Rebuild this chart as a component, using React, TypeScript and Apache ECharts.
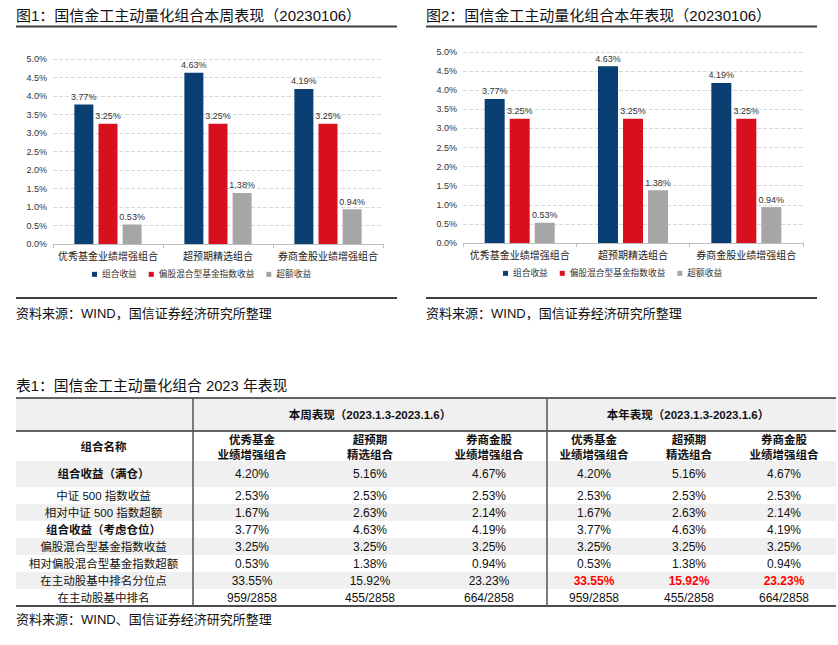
import React, { useEffect, useRef } from 'react';
import * as echarts from 'echarts';

// ---------- data ----------
const categories = ['优秀基金业绩增强组合', '超预期精选组合', '券商金股业绩增强组合'];
const seriesNames = ['组合收益', '偏股混合型基金指数收益', '超额收益'];
const weekPortfolio = [3.77, 4.63, 4.19];
const weekIndex = [3.25, 3.25, 3.25];
const weekExcess = [0.53, 1.38, 0.94];
const yearPortfolio = [3.77, 4.63, 4.19];
const yearIndex = [3.25, 3.25, 3.25];
const yearExcess = [0.53, 1.38, 0.94];

const chartTitles = ['图1：国信金工主动量化组合本周表现（20230106）', '图2：国信金工主动量化组合本年表现（20230106）'];
const chartSource = '资料来源：WIND，国信证券经济研究所整理';

const tableTitle = '表1：国信金工主动量化组合 2023 年表现';
const tableSource = '资料来源：WIND、国信证券经济研究所整理';
const sectionHeaders = ['本周表现（2023.1.3-2023.1.6）', '本年表现（2023.1.3-2023.1.6）'];
const nameHeader = '组合名称';
const colHeaders = ['优秀基金\n业绩增强组合', '超预期\n精选组合', '券商金股\n业绩增强组合'];
const rowLabels = [
  '组合收益（满仓）',
  '中证 500 指数收益',
  '相对中证 500 指数超额',
  '组合收益（考虑仓位）',
  '偏股混合型基金指数收益',
  '相对偏股混合型基金指数超额',
  '在主动股基中排名分位点',
  '在主动股基中排名',
];
const boldRows = [true, false, false, true, false, false, false, false];
const weekValues = [
  ['4.20%', '5.16%', '4.67%'],
  ['2.53%', '2.53%', '2.53%'],
  ['1.67%', '2.63%', '2.14%'],
  ['3.77%', '4.63%', '4.19%'],
  ['3.25%', '3.25%', '3.25%'],
  ['0.53%', '1.38%', '0.94%'],
  ['33.55%', '15.92%', '23.23%'],
  ['959/2858', '455/2858', '664/2858'],
];
const yearValues = [
  ['4.20%', '5.16%', '4.67%'],
  ['2.53%', '2.53%', '2.53%'],
  ['1.67%', '2.63%', '2.14%'],
  ['3.77%', '4.63%', '4.19%'],
  ['3.25%', '3.25%', '3.25%'],
  ['0.53%', '1.38%', '0.94%'],
  ['33.55%', '15.92%', '23.23%'],
  ['959/2858', '455/2858', '664/2858'],
];
const yearHighlightRow = 6;

// ---------- styles ----------
const FONT = '"Liberation Sans", Arial, "Noto Sans CJK SC", sans-serif';
const BLUE = '#0a3f73';
const RED = '#d8101e';
const GRAY = '#a6a6a6';
const ROWBG = '#f0f0f0';

function txt(text: string, x: number, y: number, size: number, opts: any = {}) {
  return {
    type: 'text',
    silent: true,
    style: {
      text,
      x,
      y,
      fill: opts.fill || '#111',
      fontSize: size,
      fontWeight: opts.bold ? 'bold' : 'normal',
      fontFamily: FONT,
      align: opts.align || 'left',
      textAlign: opts.align || 'left',
      verticalAlign: 'middle',
      textVerticalAlign: 'middle',
      lineHeight: opts.lineHeight,
    },
  };
}
function hline(x1: number, x2: number, y: number, color: string, w: number) {
  return { type: 'line', silent: true, shape: { x1, y1: y, x2, y2: y }, style: { stroke: color, lineWidth: w } };
}
function vline(x: number, y1: number, y2: number, color: string, w: number) {
  return { type: 'line', silent: true, shape: { x1: x, y1, x2: x, y2 }, style: { stroke: color, lineWidth: w } };
}
function rect(x: number, y: number, width: number, height: number, fill: string) {
  return { type: 'rect', silent: true, shape: { x, y, width, height }, style: { fill } };
}

function buildGraphics() {
  const g: any[] = [];
  // chart titles / rules / sources
  g.push(txt(chartTitles[0], 16, 15, 15));
  g.push(txt(chartTitles[1], 426, 15, 15));
  g.push(hline(16, 397, 26.5, '#404040', 2));
  g.push(hline(426, 817, 26.5, '#404040', 2));
  g.push(hline(16, 397, 298, '#404040', 2));
  g.push(hline(426, 817, 298, '#404040', 2));
  g.push(txt(chartSource, 16, 313, 13));
  g.push(txt(chartSource, 426, 313, 13));

  // table
  const L = 16, R = 836, D1 = 193, D2 = 547;
  const top = 398, h1b = 431, h2b = 461, r1b = 487, rowH = 17;
  const colX = [252, 370, 489, 594, 689, 784];
  g.push(txt(tableTitle, 16, 386, 14.8));
  // backgrounds
  g.push(rect(L, top, R - L, h1b - top, ROWBG));
  g.push(rect(L, h2b, R - L, r1b - h2b, ROWBG));
  const rowTops: number[] = [h2b];
  const rowBots: number[] = [r1b];
  for (let i = 1; i < rowLabels.length; i++) {
    rowTops.push(r1b + (i - 1) * rowH);
    rowBots.push(r1b + i * rowH);
  }
  for (let i = 1; i < rowLabels.length; i++) {
    if (i % 2 === 0) g.push(rect(L, rowTops[i], R - L, rowH, ROWBG));
  }
  const bottom = rowBots[rowBots.length - 1];
  // lines
  g.push(hline(L, R, top, '#333', 1.5));
  g.push(hline(L, R, h1b, '#333', 1.5));
  g.push(hline(L, R, bottom, '#111', 1.5));
  g.push(vline(D1, top, bottom, '#555', 1.5));
  g.push(vline(D2, top, bottom, '#555', 1.5));
  // headers
  g.push(txt(sectionHeaders[0], (D1 + D2) / 2, (top + h1b) / 2, 11.5, { bold: true, align: 'center' }));
  g.push(txt(sectionHeaders[1], 688, (top + h1b) / 2, 11.5, { bold: true, align: 'center' }));
  g.push(txt(nameHeader, (L + D1) / 2 - 1, (h1b + h2b) / 2 + 1, 11.5, { bold: true, align: 'center' }));
  for (let c = 0; c < 6; c++) {
    g.push(txt(colHeaders[c % 3], colX[c], (h1b + h2b) / 2 + 1, 11.5, { bold: true, align: 'center', lineHeight: 15 }));
  }
  // rows
  for (let i = 0; i < rowLabels.length; i++) {
    const cy = (rowTops[i] + rowBots[i]) / 2;
    g.push(txt(rowLabels[i], (L + D1) / 2 - 1, cy, 11.5, { bold: boldRows[i], align: 'center' }));
    for (let c = 0; c < 3; c++) {
      g.push(txt(weekValues[i][c], colX[c], cy, 12, { align: 'center' }));
      const hl = i === yearHighlightRow;
      g.push(txt(yearValues[i][c], colX[c + 3], cy, 12, { align: 'center', bold: hl, fill: hl ? '#ff0000' : '#111' }));
    }
  }
  g.push(txt(tableSource, 16, 619, 13));
  return g;
}

function barSeries(name: string, data: number[], color: string, idx: number, gap: string, width: number) {
  return {
    type: 'bar',
    name,
    data,
    xAxisIndex: idx,
    yAxisIndex: idx,
    barWidth: width,
    barGap: gap,
    itemStyle: { color },
    label: {
      show: true,
      position: 'top',
      distance: 3,
      fontSize: 9,
      color: '#333',
      fontFamily: FONT,
      formatter: (p: any) => p.value.toFixed(2) + '%',
    },
  };
}

function yAxis(idx: number) {
  return {
    type: 'value',
    gridIndex: idx,
    min: 0,
    max: 5,
    interval: 0.5,
    axisLine: { show: false },
    axisTick: { show: false },
    axisLabel: { fontSize: 9, color: '#333', fontFamily: FONT, margin: 6, formatter: (v: number) => v.toFixed(1) + '%' },
    splitLine: { lineStyle: { type: 'dashed', color: '#d9d9d9' } },
  };
}
function xAxis(idx: number) {
  return {
    type: 'category',
    gridIndex: idx,
    data: categories,
    axisLine: { lineStyle: { color: '#bfbfbf' } },
    axisTick: { show: true, length: 4, lineStyle: { color: '#bfbfbf' } },
    axisLabel: { fontSize: 10, color: '#222', fontFamily: FONT, margin: 7, interval: 0 },
  };
}
function legend(left: number, top: number) {
  return {
    left,
    top,
    padding: 0,
    data: seriesNames,
    icon: 'rect',
    itemWidth: 5,
    itemHeight: 5,
    itemGap: 12,
    textStyle: { fontSize: 8.7, color: '#333', fontFamily: FONT },
    selectedMode: false,
  };
}

export default function App() {
  const ref = useRef<HTMLDivElement>(null);
  useEffect(() => {
    if (!ref.current) return;
    const chart = echarts.init(ref.current, undefined, { renderer: 'svg' });
    chart.setOption({
      animation: false,
      backgroundColor: '#fff',
      textStyle: { fontFamily: FONT },
      grid: [
        { left: 53, right: 838 - 383, top: 59, bottom: 645 - 244 },
        { left: 463, right: 838 - 803, top: 52, bottom: 645 - 243 },
      ],
      xAxis: [xAxis(0), xAxis(1)],
      yAxis: [yAxis(0), yAxis(1)],
      legend: [legend(92, 270), legend(503, 269)],
      series: [
        barSeries(seriesNames[0], weekPortfolio, BLUE, 0, '27%', 19),
        barSeries(seriesNames[1], weekIndex, RED, 0, '27%', 19),
        barSeries(seriesNames[2], weekExcess, GRAY, 0, '27%', 19),
        barSeries(seriesNames[0], yearPortfolio, BLUE, 1, '25%', 20),
        barSeries(seriesNames[1], yearIndex, RED, 1, '25%', 20),
        barSeries(seriesNames[2], yearExcess, GRAY, 1, '25%', 20),
      ],
      graphic: buildGraphics(),
    });
    return () => chart.dispose();
  }, []);
  return <div ref={ref} style={{ position: 'fixed', left: 0, top: 0, width: 838, height: 645 }} />;
}
